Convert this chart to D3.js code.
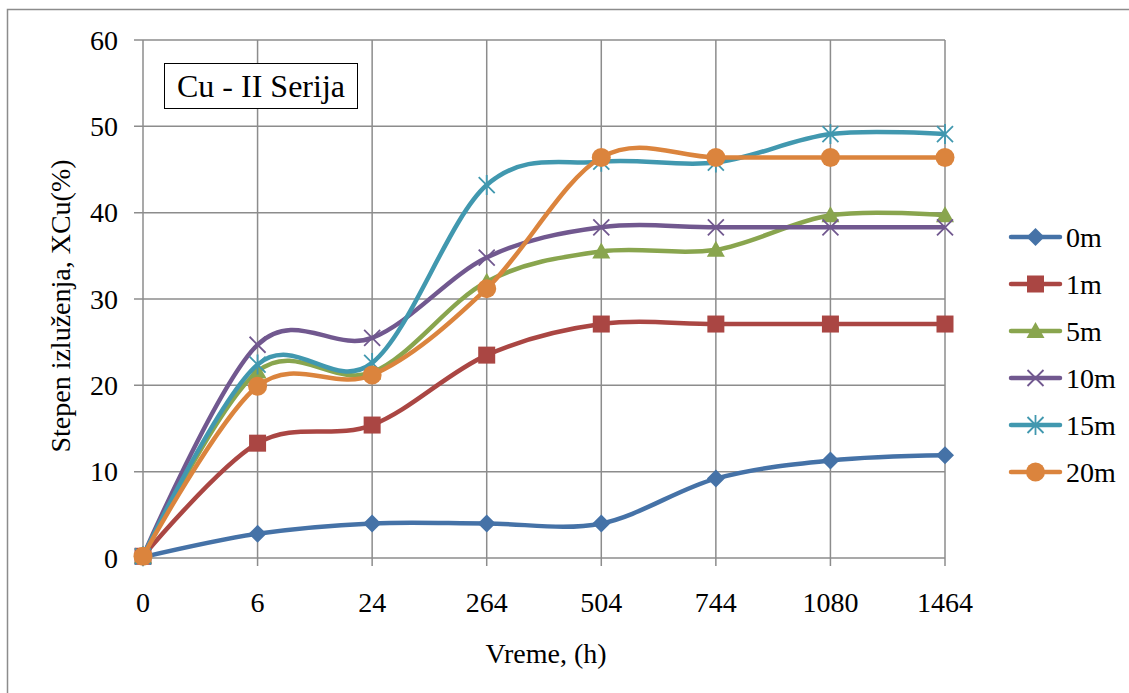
<!DOCTYPE html>
<html>
<head>
<meta charset="utf-8">
<script src="https://cdn.jsdelivr.net/npm/d3@7"></script>
<style>
  body { margin: 0; background: #fff; }
</style>
</head>
<body>
<div class="chart"></div>
<script>
// categories (time, h)
const hours = ["0", "6", "24", "264", "504", "744", "1080", "1464"];
const seriesNames = ["0m", "1m", "5m", "10m", "15m", "20m"];
const yTicks = [0, 10, 20, 30, 40, 50, 60];

// values (XCu %)
const s0m  = [0.1, 2.8, 4.0, 4.0, 4.0, 9.2, 11.3, 11.9];
const s1m  = [0.2, 13.3, 15.4, 23.5, 27.1, 27.1, 27.1, 27.1];
const s5m  = [0.2, 21.6, 21.5, 32.0, 35.5, 35.7, 39.7, 39.7];
const s10m = [0.2, 24.7, 25.5, 34.8, 38.3, 38.3, 38.3, 38.3];
const s15m = [0.2, 22.4, 22.6, 43.2, 45.9, 45.8, 49.1, 49.1];
const s20m = [0.2, 19.9, 21.2, 31.2, 46.4, 46.4, 46.4, 46.4];

const allSeries = [s0m, s1m, s5m, s10m, s15m, s20m];
const colors = ["#4572A7", "#AA4643", "#89A54E", "#71588F", "#4198AF", "#DB843D"];
const markers = ["diamond", "square", "triangle", "x", "star", "circle"];

const W = 1129, H = 693;
const margin = { top: 40, left: 143, right: 184, bottom: 135 };
const serif = "'Liberation Serif'";

const svg = d3.select("div.chart")
  .append("svg")
  .attr("width", W)
  .attr("height", H);

// outer chart border
svg.append("rect")
  .attr("x", 7.5).attr("y", 9.5)
  .attr("width", W + 20).attr("height", H + 20)
  .attr("fill", "none")
  .attr("stroke", "#8c8c8c")
  .attr("stroke-width", 1.5);

const x = d3.scalePoint()
  .domain(hours)
  .range([margin.left, W - margin.right]);

const y = d3.scaleLinear()
  .domain([0, 60])
  .range([H - margin.bottom, margin.top]);

const grid = svg.append("g");

// horizontal gridlines
grid.selectAll("line.h")
  .data(yTicks)
  .enter()
  .append("line")
  .attr("x1", margin.left - 9)
  .attr("x2", x.range()[1])
  .attr("y1", d => y(d))
  .attr("y2", d => y(d))
  .attr("stroke", "#8c8c8c")
  .attr("stroke-width", 1.5);

// vertical gridlines
grid.selectAll("line.v")
  .data(hours)
  .enter()
  .append("line")
  .attr("x1", d => x(d))
  .attr("x2", d => x(d))
  .attr("y1", y(60))
  .attr("y2", y(0) + 8)
  .attr("stroke", "#8c8c8c")
  .attr("stroke-width", 1.5);

// tick labels
svg.append("g")
  .selectAll("text")
  .data(yTicks)
  .enter()
  .append("text")
  .attr("x", 118)
  .attr("y", d => y(d) + 9.5)
  .attr("text-anchor", "end")
  .style("font-family", serif)
  .style("font-size", "28px")
  .text(d => d);

svg.append("g")
  .selectAll("text")
  .data(hours)
  .enter()
  .append("text")
  .attr("x", d => x(d))
  .attr("y", 612)
  .attr("text-anchor", "middle")
  .style("font-family", serif)
  .style("font-size", "28px")
  .text(d => d);

// axis titles
svg.append("text")
  .attr("transform", "translate(70,306) rotate(-90)")
  .attr("text-anchor", "middle")
  .style("font-family", serif)
  .style("font-size", "28px")
  .text("Stepen izluženja, XCu(%)");

svg.append("text")
  .attr("x", 546)
  .attr("y", 663)
  .attr("text-anchor", "middle")
  .style("font-family", serif)
  .style("font-size", "28px")
  .text("Vreme, (h)");

// title box
svg.append("rect")
  .attr("x", 164.5).attr("y", 63.5)
  .attr("width", 193).attr("height", 45)
  .attr("fill", "#fff")
  .attr("stroke", "#000")
  .attr("stroke-width", 1);

svg.append("text")
  .attr("x", 261)
  .attr("y", 97)
  .attr("text-anchor", "middle")
  .style("font-family", serif)
  .style("font-size", "32px")
  .text("Cu - II Serija");

// smoothed lines
const line = d3.line()
  .x((d, i) => x(hours[i]))
  .y(d => y(d))
  .curve(d3.curveCatmullRom.alpha(0));

function drawMarker(g, type, color) {
  if (type === "diamond") {
    g.append("path").attr("d", "M0,-9L9,0L0,9L-9,0Z").attr("fill", color);
  } else if (type === "square") {
    g.append("rect").attr("x", -8.5).attr("y", -8.5).attr("width", 17).attr("height", 17).attr("fill", color);
  } else if (type === "triangle") {
    g.append("path").attr("d", "M0,-9L9,7L-9,7Z").attr("fill", color);
  } else if (type === "x") {
    g.append("path").attr("d", "M-8,-8L8,8M-8,8L8,-8").attr("stroke", color).attr("stroke-width", 1.8);
  } else if (type === "star") {
    g.append("path").attr("d", "M-8,-8L8,8M-8,8L8,-8M0,-10L0,10").attr("stroke", color).attr("stroke-width", 1.8);
  } else if (type === "circle") {
    g.append("circle").attr("r", 9.5).attr("fill", color);
  }
}

allSeries.forEach(function (vals, k) {
  const g = svg.append("g");
  g.append("path")
    .datum(vals)
    .attr("d", line)
    .attr("fill", "none")
    .attr("stroke", colors[k])
    .attr("stroke-width", 4.5)
    .attr("stroke-linejoin", "round");

  g.selectAll("g.m")
    .data(vals)
    .enter()
    .append("g")
    .attr("transform", (d, i) => "translate(" + x(hours[i]) + "," + y(d) + ")")
    .each(function () { drawMarker(d3.select(this), markers[k], colors[k]); });
});

// legend
const legend = svg.append("g");
seriesNames.forEach(function (name, k) {
  const ly = 237 + k * 47;
  legend.append("line")
    .attr("x1", 1011).attr("x2", 1060)
    .attr("y1", ly).attr("y2", ly)
    .attr("stroke", colors[k])
    .attr("stroke-width", 4.5)
    .attr("stroke-linecap", "round");
  const mg = legend.append("g").attr("transform", "translate(1035.5," + ly + ")");
  drawMarker(mg, markers[k], colors[k]);
  legend.append("text")
    .attr("x", 1066)
    .attr("y", ly + 9.5)
    .style("font-family", serif)
    .style("font-size", "28px")
    .text(name);
});
</script>
</body>
</html>
